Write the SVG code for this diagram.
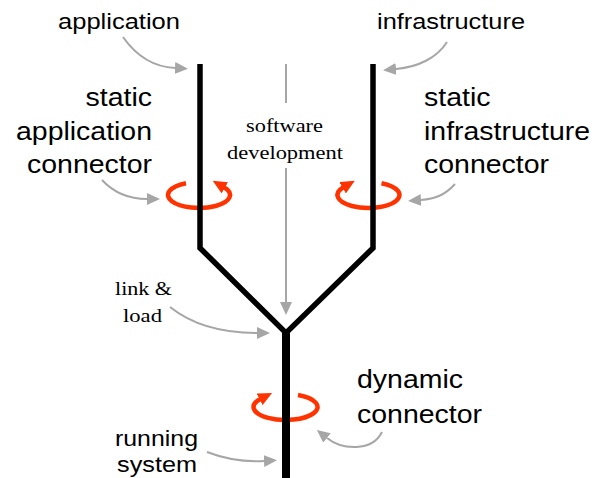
<svg xmlns="http://www.w3.org/2000/svg" width="602" height="478" viewBox="0 0 602 478">
  <style>
    .bg { fill: #ffffff; }
    .sans { font-family: "Liberation Sans", Arial, sans-serif; fill: #000000; }
    .small { font-size: 21.5px; }
    .big { font-size: 25.5px; }
    .serif { font-family: "Liberation Serif", "Times New Roman", serif; font-size: 19.5px; fill: #000000; }
    .axis { fill: none; stroke: #000000; stroke-width: 5.5; stroke-linejoin: miter; }
    .trunk { fill: none; stroke: #000000; stroke-width: 8; }
    .pointer { fill: none; stroke: #a6a6a6; stroke-width: 2; marker-end: url(#grayHead); }
    .plain { fill: none; stroke: #a6a6a6; stroke-width: 2; }
    .spin { fill: none; stroke: #ff3300; stroke-width: 4.5; stroke-linecap: butt; marker-end: url(#redHead); }
  </style>
  <defs>
    <marker id="grayHead" viewBox="0 0 13 12" refX="0" refY="6" markerWidth="13" markerHeight="12" markerUnits="userSpaceOnUse" orient="auto">
      <path d="M0,0 L13,6 L0,12 Z" fill="#a6a6a6"/>
    </marker>
    <marker id="redHead" viewBox="0 0 14 13" refX="1" refY="6.5" markerWidth="14" markerHeight="13" markerUnits="userSpaceOnUse" orient="auto">
      <path d="M0,0 L14,6.5 L0,13 Z" fill="#ff3300"/>
    </marker>
  </defs>
  <rect class="bg" x="0" y="0" width="602" height="478"/>

  <!-- rotation rings around each axis -->
  <g id="ring-application">
    <path class="spin" d="M186,183.2 A31,13 0 1 0 224,187.3"/>
  </g>
  <g id="ring-infrastructure">
    <path class="spin" d="M381.5,183.2 A31,13 0 1 1 343.5,187.3"/>
  </g>
  <g id="ring-dynamic">
    <path class="spin" d="M298,395 A32,13 0 1 1 260.5,398.9"/>
  </g>

  <!-- the Y-shaped structure -->
  <g id="structure">
    <path class="axis" d="M200,64 V248 L286,333 L373,248 V64"/>
    <path class="trunk" d="M286,331 V478"/>
  </g>

  <!-- labels -->
  <g id="label-application">
    <text class="sans small" x="58" y="29" textLength="122" lengthAdjust="spacingAndGlyphs">application</text>
  </g>
  <g id="label-infrastructure">
    <text class="sans small" x="377" y="29" textLength="148" lengthAdjust="spacingAndGlyphs">infrastructure</text>
  </g>
  <g id="label-static-application">
    <text class="sans big" x="85.5" y="106" textLength="66.5" lengthAdjust="spacingAndGlyphs">static</text>
    <text class="sans big" x="16" y="140" textLength="136" lengthAdjust="spacingAndGlyphs">application</text>
    <text class="sans big" x="27" y="173" textLength="125" lengthAdjust="spacingAndGlyphs">connector</text>
  </g>
  <g id="label-static-infrastructure">
    <text class="sans big" x="424" y="106" textLength="66.5" lengthAdjust="spacingAndGlyphs">static</text>
    <text class="sans big" x="424" y="140" textLength="166" lengthAdjust="spacingAndGlyphs">infrastructure</text>
    <text class="sans big" x="424" y="173" textLength="125" lengthAdjust="spacingAndGlyphs">connector</text>
  </g>
  <g id="label-software-development">
    <text class="serif" x="246" y="132" textLength="77" lengthAdjust="spacingAndGlyphs">software</text>
    <text class="serif" x="227" y="159" textLength="116" lengthAdjust="spacingAndGlyphs">development</text>
  </g>
  <g id="label-link-load">
    <text class="serif" x="115" y="295" textLength="57" lengthAdjust="spacingAndGlyphs">link &amp;</text>
    <text class="serif" x="123" y="322" textLength="39" lengthAdjust="spacingAndGlyphs">load</text>
  </g>
  <g id="label-dynamic">
    <text class="sans big" x="357" y="388" textLength="106" lengthAdjust="spacingAndGlyphs">dynamic</text>
    <text class="sans big" x="357" y="423" textLength="125" lengthAdjust="spacingAndGlyphs">connector</text>
  </g>
  <g id="label-running">
    <text class="sans small" x="115" y="446" textLength="83" lengthAdjust="spacingAndGlyphs">running</text>
    <text class="sans small" x="117" y="472" textLength="80" lengthAdjust="spacingAndGlyphs">system</text>
  </g>

  <!-- gray pointers -->
  <g id="connectors">
    <path class="pointer" d="M123,37 C137,57 155,67 175,68"/>
    <path class="pointer" d="M447,42 C437,58 418,67 396,69"/>
    <path class="pointer" d="M102,180 C115,194 130,199 147,199"/>
    <path class="pointer" d="M455,184 C445,195 435,199 421,200"/>
    <path class="plain" d="M286,64 V103"/>
    <path class="pointer" d="M286,168 V302"/>
    <path class="pointer" d="M170,307 C195,327 228,333 257,333"/>
    <path class="pointer" d="M382,432 C372,452 342,450 327,438"/>
    <path class="pointer" d="M207,452 C225,459 245,462 264,461"/>
  </g>
</svg>
